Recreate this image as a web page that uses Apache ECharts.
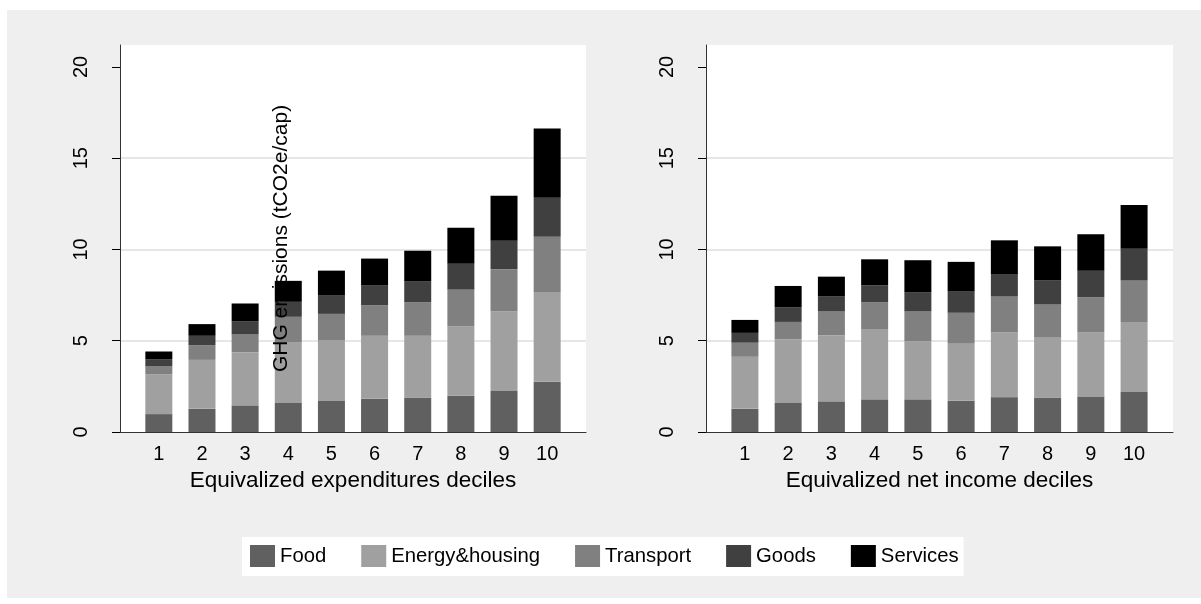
<!DOCTYPE html>
<html>
<head>
<meta charset="utf-8">
<script src="https://cdn.jsdelivr.net/npm/echarts@6/dist/echarts.min.js"></script>
<style>
  html, body { margin: 0; padding: 0; background: #fff; }
  #frame { position: absolute; left: 7px; top: 10px; width: 1194px; height: 588px; background: #efefef; }
  #chart { position: absolute; left: 0; top: 0; width: 1201px; height: 604px; }
</style>
</head>
<body>
<div id="frame"></div>
<div id="chart"></div>
<script>
const deciles = [1, 2, 3, 4, 5, 6, 7, 8, 9, 10];
const seriesNames = ["Food", "Energy&housing", "Transport", "Goods", "Services"];
const colors = ["#606060", "#a0a0a0", "#808080", "#404040", "#000000"];
const yTicks = [0, 5, 10, 15, 20];

// expenditures deciles (tCO2e/cap per category)
const expFood = [0.98, 1.27, 1.46, 1.59, 1.70, 1.82, 1.89, 1.99, 2.24, 2.75];
const expEnergy = [2.17, 2.68, 2.90, 3.31, 3.31, 3.45, 3.38, 3.79, 4.36, 4.92];
const expTransport = [0.44, 0.81, 0.98, 1.41, 1.46, 1.68, 1.84, 2.02, 2.32, 3.03];
const expGoods = [0.40, 0.51, 0.71, 0.82, 1.00, 1.07, 1.13, 1.42, 1.56, 2.13];
const expServices = [0.42, 0.64, 0.99, 1.15, 1.37, 1.48, 1.69, 1.97, 2.46, 3.80];

// net income deciles
const incFood = [1.27, 1.59, 1.68, 1.79, 1.79, 1.71, 1.91, 1.89, 1.95, 2.19];
const incEnergy = [2.85, 3.48, 3.61, 3.82, 3.17, 3.16, 3.54, 3.31, 3.50, 3.84];
const incTransport = [0.77, 0.96, 1.31, 1.50, 1.64, 1.66, 1.97, 1.78, 1.93, 2.29];
const incGoods = [0.54, 0.81, 0.82, 0.93, 1.04, 1.16, 1.20, 1.34, 1.46, 1.72];
const incServices = [0.71, 1.16, 1.09, 1.42, 1.77, 1.63, 1.88, 1.85, 1.99, 2.39];

const expData = [expFood, expEnergy, expTransport, expGoods, expServices];
const incData = [incFood, incEnergy, incTransport, incGoods, incServices];

const FONT = "'Liberation Sans', Arial, sans-serif";

function xAxisFor(gridIndex, name) {
  return {
    type: "value", gridIndex, min: 0.1, max: 10.9,
    name, nameLocation: "middle", nameGap: 35,
    nameTextStyle: { fontSize: 22.5, color: "#000", fontFamily: FONT },
    axisLine: { show: true, lineStyle: { color: "#333", width: 1 } },
    axisTick: { show: false },
    splitLine: { show: false },
    axisLabel: { customValues: deciles, fontSize: 20, color: "#000", margin: 12, fontFamily: FONT }
  };
}

function yAxisFor(gridIndex) {
  return {
    type: "value", gridIndex, position: "left", min: 0, max: 21.2, interval: 5,
    axisLine: { show: true, lineStyle: { color: "#333", width: 1 } },
    axisTick: { show: true, customValues: yTicks, length: 8, lineStyle: { color: "#000" } },
    axisLabel: { customValues: yTicks, rotate: 90, fontSize: 20, color: "#000", margin: 29, fontFamily: FONT },
    splitLine: { show: true, showMinLine: false, showMaxLine: false, lineStyle: { color: "#e6e6e6", width: 2 } }
  };
}

function barSeries(rows, axisIndex) {
  return rows.map((vals, k) => ({
    name: seriesNames[k],
    type: "bar",
    stack: "g" + axisIndex,
    xAxisIndex: axisIndex,
    yAxisIndex: axisIndex,
    barWidth: 27,
    itemStyle: { color: colors[k] },
    encode: { x: 1, y: 0 },
    data: vals.map((v, i) => [v, deciles[i]])
  }));
}

const chart = echarts.init(document.getElementById("chart"));
chart.setOption({
  backgroundColor: "transparent",
  animation: false,
  textStyle: { fontFamily: FONT },
  grid: [
    { left: 120, top: 45, width: 466, height: 387, show: true, backgroundColor: "#fff", borderWidth: 0 },
    { left: 706, top: 45, width: 467, height: 387, show: true, backgroundColor: "#fff", borderWidth: 0 }
  ],
  legend: {
    data: seriesNames,
    left: 242, top: 537,
    padding: [8, 5, 9, 8],
    backgroundColor: "#fff",
    itemWidth: 25, itemHeight: 22, itemGap: 35,
    icon: "rect",
    textStyle: { fontSize: 20.3, color: "#000", fontFamily: FONT }
  },
  xAxis: [
    xAxisFor(0, "Equivalized expenditures deciles"),
    xAxisFor(1, "Equivalized net income deciles")
  ],
  yAxis: [
    yAxisFor(0),
    yAxisFor(1),
    {
      // name-only axis so the title sits over the bars, as in the source
      type: "value", gridIndex: 0, position: "left", offset: 0, min: 0, max: 21.2, z: 10,
      name: "GHG emissions (tCO2e/cap)", nameLocation: "middle", nameGap: -172, nameRotate: 90,
      nameTextStyle: { fontSize: 21, color: "#000", fontFamily: FONT },
      axisLine: { show: false }, axisTick: { show: false },
      axisLabel: { show: false }, splitLine: { show: false }
    }
  ],
  series: [...barSeries(expData, 0), ...barSeries(incData, 1)]
});
</script>
</body>
</html>
